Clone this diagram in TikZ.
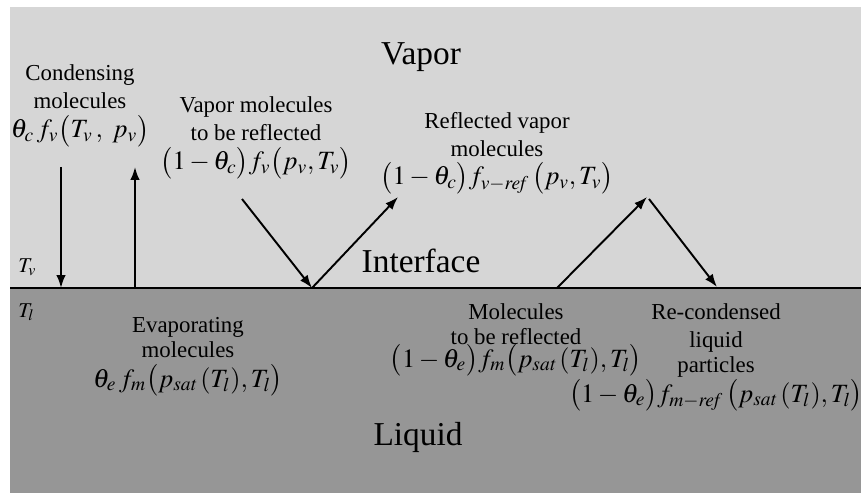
\documentclass[tikz,border=0pt]{standalone}
\usepackage{mathptmx}
\usepackage{fontspec}
\setmainfont{Liberation Serif}
\usetikzlibrary{arrows.meta}
\definecolor{vaporgray}{RGB}{214,214,214}
\definecolor{liquidgray}{RGB}{150,150,150}
\newcommand{\eqsize}{\fontsize{15}{16}\selectfont}
\tikzset{
  >=Latex,
  molarrow/.style={-{Latex[length=2.6mm, width=1.9mm]}, line width=1.1pt, black},
  phaselabel/.style={font=\fontsize{19}{22}\selectfont, inner sep=0pt, anchor=base},
  desc/.style={font=\fontsize{13}{16}\selectfont, align=center, inner sep=0pt, anchor=base},
  templabel/.style={font=\fontsize{12}{14}\selectfont, inner sep=0pt, anchor=base west}
}
\begin{document}
\begin{tikzpicture}[x=0.02cm, y=-0.02cm]
    \useasboundingbox (0,0) rectangle (861,493);
    \fill[vaporgray] (10,7) rectangle (861,288);
    \fill[liquidgray] (10,288) rectangle (861,493);
    \coordinate (ifL) at (10,288);
    \coordinate (ifR) at (861,288);
    \draw[line width=1.6pt] (ifL) -- (ifR);

    % phases
    \node (vapor) [phaselabel] at (421,65) {Vapor};
    \node (interface) [phaselabel] at (421,272) {Interface};
    \node (liquid) [phaselabel] at (418,445) {Liquid};
    \node (tv) [templabel] at (18,272) {$T_v$};
    \node (tl) [templabel] at (18,317) {$T_l$};

    % vapor side (anchored on the last line)
    \node (cond) [desc] at (80,138) {Condensing\\ molecules\\[1pt] {\eqsize $\theta_c\, f_v\big(T_v\,,\ p_v\big)$}};
    \node (vrefl) [desc] at (256,170) {Vapor molecules\\ to be reflected\\[1pt] {\eqsize $\big(1-\theta_c\big) f_v\big(p_v, T_v\big)$}};
    \node (vout) [desc] at (497,185) {Reflected vapor\\ molecules\\ {\eqsize $\big(1-\theta_c\big) f_{v-\mathit{ref}}\,\big(p_v, T_v\big)$}};

    % liquid side
    \node (evap) [desc] at (188,387) {Evaporating\\[-2pt] molecules\\[1pt] {\eqsize $\theta_e\, f_m\big(p_{\mathit{sat}}\,(T_l), T_l\big)$}};
    \node (lrefl) [desc] at (516,367) {Molecules\\[-2pt] to be reflected\\[-3pt] {\eqsize $\big(1-\theta_e\big) f_m\big(p_{\mathit{sat}}\,(T_l), T_l\big)$}};
    \node (recond) [desc] at (716,372) {Re-condensed\\ liquid\\[-2pt] particles};
    \node (lout) [desc] at (716,402) {\eqsize $\big(1-\theta_e\big) f_{m-\mathit{ref}}\,\big(p_{\mathit{sat}}\,(T_l), T_l\big)$};

    % molecule paths
    \coordinate (condTop) at (61,167);
    \coordinate (condHit) at (61,288);
    \coordinate (evapBot) at (135,288);
    \coordinate (evapTop) at (135,167);
    \coordinate (vIn) at (242,199);
    \coordinate (vHit) at (312,288);
    \coordinate (vOut) at (398,197);
    \coordinate (lHit) at (557,288);
    \coordinate (lPeak) at (647,197);
    \coordinate (lTurn) at (649,199);
    \coordinate (lBack) at (717,287);

    \draw[molarrow] (condTop) -- (condHit);
    \draw[molarrow] (evapBot) -- (evapTop);
    \draw[molarrow] (vIn) -- (vHit);
    \draw[molarrow] (vHit) -- (vOut);
    \draw[molarrow] (lHit) -- (lPeak);
    \draw[molarrow] (lTurn) -- (lBack);
\end{tikzpicture}
\end{document}
